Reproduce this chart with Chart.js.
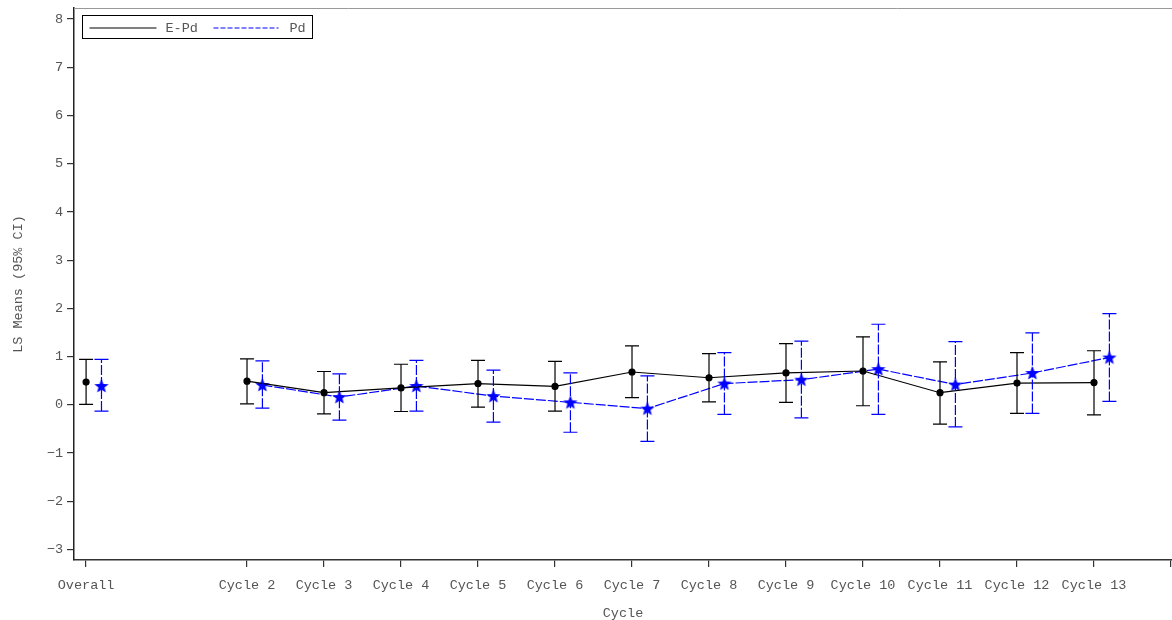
<!DOCTYPE html>
<html lang="en">
<head>
    <meta charset="UTF-8">
    <title>LS Means (95% CI) by Cycle</title>
    <script src="https://cdn.jsdelivr.net/npm/chart.js@4"></script>
    <style>
        html, body { margin: 0; padding: 0; background: #fff; }
        #wrap { width: 1172px; height: 620px; position: relative; }
    </style>
</head>
<body>
    <div id="wrap"><canvas id="grafico"></canvas></div>

    <script>
        // Dados
        const categorias = ['Overall', 'Cycle 2', 'Cycle 3', 'Cycle 4', 'Cycle 5', 'Cycle 6', 'Cycle 7',
                            'Cycle 8', 'Cycle 9', 'Cycle 10', 'Cycle 11', 'Cycle 12', 'Cycle 13'];
        const epdMedia    = [0.47, 0.49, 0.25, 0.35, 0.44, 0.38, 0.68, 0.56, 0.66, 0.70, 0.25, 0.45, 0.46];
        const epdInferior = [0.01, 0.02, -0.19, -0.14, -0.05, -0.13, 0.15, 0.06, 0.05, -0.02, -0.40, -0.18, -0.21];
        const epdSuperior = [0.94, 0.95, 0.69, 0.84, 0.92, 0.90, 1.22, 1.06, 1.27, 1.41, 0.89, 1.08, 1.12];
        const pdMedia     = [0.39, 0.41, 0.16, 0.39, 0.18, 0.05, -0.08, 0.44, 0.52, 0.74, 0.42, 0.66, 0.98];
        const pdInferior  = [-0.13, -0.07, -0.32, -0.13, -0.36, -0.57, -0.76, -0.20, -0.27, -0.20, -0.46, -0.18, 0.07];
        const pdSuperior  = [0.94, 0.91, 0.64, 0.92, 0.72, 0.66, 0.60, 1.08, 1.32, 1.67, 1.31, 1.49, 1.89];
        const yTicks = [-3, -2, -1, 0, 1, 2, 3, 4, 5, 6, 7, 8];

        const FONTE = '"Liberation Mono", "Courier New", monospace';
        const CINZA = '#555';
        const AZUL = '#0000ff';

        // posição no eixo x: Overall fica à esquerda, ciclos pelo número
        function posicao(rotulo) {
            return rotulo === 'Overall' ? -0.09 : parseInt(rotulo.replace('Cycle ', ''), 10);
        }
        const posicoes = categorias.map(posicao);
        const deslocPd = 0.2;

        function montarSerie(medias, desloc) {
            const pts = [];
            medias.forEach((m, i) => {
                pts.push({ x: posicoes[i] + desloc, y: m, i: i });
                if (i === 0) pts.push({ x: 1 + desloc, y: null, i: -1 }); // quebra entre Overall e ciclos
            });
            return pts;
        }

        // estrela cheia para a série Pd
        function criarEstrela() {
            const c = document.createElement('canvas');
            c.width = 16; c.height = 16;
            const g = c.getContext('2d');
            g.beginPath();
            for (let k = 0; k < 10; k++) {
                const r = k % 2 === 0 ? 7.5 : 3.2;
                const a = -Math.PI / 2 + k * Math.PI / 5;
                const px = 8 + r * Math.cos(a), py = 8.5 + r * Math.sin(a);
                if (k === 0) g.moveTo(px, py); else g.lineTo(px, py);
            }
            g.closePath();
            g.fillStyle = AZUL;
            g.fill();
            return c;
        }

        // barras de erro (IC 95%)
        const barrasErro = {
            id: 'barrasErro',
            afterDatasetsDraw(chart) {
                const ctx = chart.ctx;
                const ys = chart.scales.y;
                chart.data.datasets.forEach((ds, d) => {
                    const meta = chart.getDatasetMeta(d);
                    ctx.save();
                    ctx.strokeStyle = ds.borderColor;
                    ctx.lineWidth = 1.2;
                    meta.data.forEach((el, k) => {
                        const raw = ds.data[k];
                        if (raw.i < 0) return;
                        const lo = ys.getPixelForValue(ds.inferior[raw.i]);
                        const hi = ys.getPixelForValue(ds.superior[raw.i]);
                        const x = el.x;
                        ctx.setLineDash(ds.borderDash || []);
                        ctx.beginPath();
                        ctx.moveTo(x, lo); ctx.lineTo(x, hi);
                        ctx.stroke();
                        ctx.setLineDash([]);
                        ctx.beginPath();
                        ctx.moveTo(x - 7, lo); ctx.lineTo(x + 7, lo);
                        ctx.moveTo(x - 7, hi); ctx.lineTo(x + 7, hi);
                        ctx.stroke();
                    });
                    ctx.restore();
                });
            }
        };

        // moldura superior e legenda com borda
        const moldura = {
            id: 'moldura',
            afterDraw(chart) {
                const ctx = chart.ctx;
                const a = chart.chartArea;
                ctx.save();
                ctx.strokeStyle = '#999';
                ctx.lineWidth = 1;
                ctx.beginPath();
                ctx.moveTo(a.left, a.top + 0.5); ctx.lineTo(a.right, a.top + 0.5);
                ctx.stroke();

                const lx = a.left + 8.5, ly = a.top + 7.5;
                ctx.strokeStyle = '#000';
                ctx.strokeRect(lx, ly, 230, 23);
                const my = ly + 12.5;
                ctx.font = '13.5px ' + FONTE;
                ctx.textBaseline = 'middle';
                ctx.fillStyle = CINZA;
                ctx.beginPath();
                ctx.moveTo(lx + 7, my); ctx.lineTo(lx + 74, my);
                ctx.stroke();
                ctx.fillText(chart.data.datasets[0].label, lx + 83, my + 0.5);
                ctx.strokeStyle = AZUL;
                ctx.setLineDash([5, 2]);
                ctx.beginPath();
                ctx.moveTo(lx + 131, my); ctx.lineTo(lx + 196, my);
                ctx.stroke();
                ctx.setLineDash([]);
                ctx.fillText(chart.data.datasets[1].label, lx + 207, my + 0.5);
                ctx.restore();
            }
        };

        const ctx = document.getElementById('grafico').getContext('2d');
        new Chart(ctx, {
            type: 'line',
            data: {
                datasets: [
                    {
                        label: 'E-Pd',
                        data: montarSerie(epdMedia, 0),
                        inferior: epdInferior,
                        superior: epdSuperior,
                        borderColor: '#000',
                        backgroundColor: '#000',
                        borderWidth: 1.2,
                        pointRadius: 3,
                        pointStyle: 'circle',
                        spanGaps: false
                    },
                    {
                        label: 'Pd',
                        data: montarSerie(pdMedia, deslocPd),
                        inferior: pdInferior,
                        superior: pdSuperior,
                        borderColor: AZUL,
                        backgroundColor: AZUL,
                        borderWidth: 1.2,
                        borderDash: [10, 2],
                        pointStyle: criarEstrela(),
                        spanGaps: false
                    }
                ]
            },
            options: {
                responsive: true,
                maintainAspectRatio: false,
                animation: false,
                layout: { autoPadding: false, padding: { top: 8, right: 0, bottom: 0, left: 0 } },
                plugins: { legend: { display: false }, tooltip: { enabled: false } },
                scales: {
                    x: {
                        type: 'linear',
                        min: -0.247,
                        max: 14.013,
                        afterBuildTicks: scale => {
                            scale.ticks = posicoes.concat([14]).map(v => ({ value: v }));
                        },
                        afterFit: scale => {
                            scale.height = 60;
                            scale.paddingLeft = 0;
                            scale.paddingRight = 0;
                        },
                        grid: { drawOnChartArea: false, drawTicks: true, tickLength: 7, color: '#333', lineWidth: 1.2 },
                        border: { display: true, color: '#333', width: 1.5 },
                        ticks: {
                            autoSkip: false,
                            maxRotation: 0,
                            padding: 10,
                            color: CINZA,
                            font: { family: FONTE, size: 13.5 },
                            callback: value => {
                                const k = posicoes.indexOf(value);
                                return k >= 0 ? categorias[k] : '';
                            }
                        },
                        title: {
                            display: true,
                            text: 'Cycle',
                            color: CINZA,
                            font: { family: FONTE, size: 13.5, lineHeight: 1 },
                            padding: { top: 0, bottom: 0 }
                        }
                    },
                    y: {
                        min: -3.22,
                        max: 8.23,
                        afterBuildTicks: scale => {
                            scale.ticks = yTicks.map(v => ({ value: v }));
                        },
                        afterFit: scale => {
                            scale.width = 74;
                            scale.paddingTop = 0;
                            scale.paddingBottom = 0;
                        },
                        grid: { drawOnChartArea: false, drawTicks: true, tickLength: 7, color: '#333', lineWidth: 1.2 },
                        border: { display: true, color: '#222', width: 1.5 },
                        ticks: {
                            padding: 4,
                            color: CINZA,
                            font: { family: FONTE, size: 13.5 },
                            callback: value => String(value).replace('-', '\u2212')
                        },
                        title: {
                            display: true,
                            text: 'LS Means (95% CI)',
                            color: CINZA,
                            font: { family: FONTE, size: 13.5, lineHeight: 1 },
                            padding: { top: 12, bottom: 0 }
                        }
                    }
                }
            },
            plugins: [barrasErro, moldura]
        });
    </script>
</body>
</html>
